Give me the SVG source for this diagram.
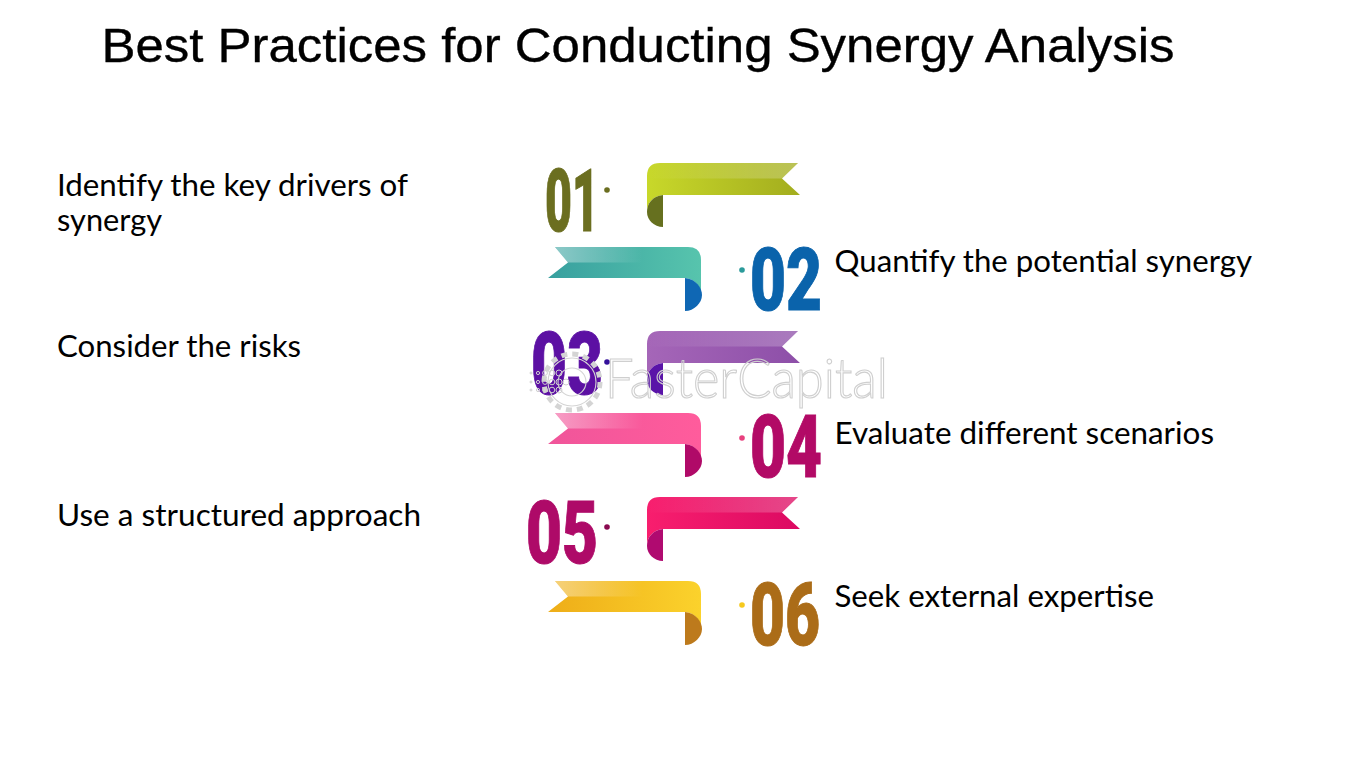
<svg xmlns="http://www.w3.org/2000/svg" width="1350" height="759" viewBox="0 0 1350 759">
<style>
.title{font-family:"Liberation Sans",Arial,sans-serif;font-size:48px;fill:#000;stroke:#000;stroke-width:.35px}
.body{font-family:Lato,"Open Sans",sans-serif;font-size:31px;fill:#000}
.num{font-family:Roboto,"Liberation Sans",sans-serif;font-weight:900;font-size:88px;stroke-width:1px;stroke-linejoin:miter}
.wm{font-family:Lato,"Liberation Sans",sans-serif;font-weight:300;font-size:56px;fill:none;stroke:#cfcfcf;stroke-width:1.2px}
.ring{fill:none;stroke:#d4d4d4}
.dot{fill:none;stroke:#cfcfcf;stroke-width:1}
</style>
<defs>
<path id="lb" d="M0 13Q0 0 13 0L151 0L135 15.5L153 32L16 32C5 33 0 41 0 49Z"/>
<path id="lt" d="M0 13Q0 0 13 0L151 0L135 15.5L0 15.5Z"/>
<path id="lf" d="M16 32C5 33 0 41 0 49C0 57 7 64 16 64Z"/>
<path id="rb" d="M153 13Q153 0 140 0L7 0L20 15.5L0 31L137 31C148 32 153 41 153 48Z"/>
<path id="rt" d="M153 13Q153 0 140 0L7 0L20 15.5L153 15.5Z"/>
<path id="rf" d="M137 31C148 32 154 41 154 48C154 56 146 64 137 64Z"/>
<linearGradient id="g1" x1="0" x2="1" y1="0" y2="0"><stop offset="0" stop-color="#c8d82a"/><stop offset="1" stop-color="#a3ad1e"/></linearGradient>
<linearGradient id="g2" x1="0" x2="1" y1="0" y2="0"><stop offset="0" stop-color="#38a09f"/><stop offset="1" stop-color="#57c4ad"/></linearGradient>
<linearGradient id="g3" x1="0" x2="1" y1="0" y2="0"><stop offset="0" stop-color="#a566b8"/><stop offset="1" stop-color="#8d4fa8"/></linearGradient>
<linearGradient id="g4" x1="0" x2="1" y1="0" y2="0"><stop offset="0" stop-color="#f0559a"/><stop offset="1" stop-color="#ff5c9c"/></linearGradient>
<linearGradient id="g5" x1="0" x2="1" y1="0" y2="0"><stop offset="0" stop-color="#f81e6e"/><stop offset="1" stop-color="#dc0a62"/></linearGradient>
<linearGradient id="g6" x1="0" x2="1" y1="0" y2="0"><stop offset="0" stop-color="#eead18"/><stop offset="1" stop-color="#fbd22c"/></linearGradient>
<linearGradient id="h1" x1="0" x2="1" y1="0" y2="0"><stop offset="0" stop-color="#fff" stop-opacity="0"/><stop offset="1" stop-color="#fff" stop-opacity=".25"/></linearGradient>
<linearGradient id="h2" x1="0" x2="1" y1="0" y2="0"><stop offset="0" stop-color="#fff" stop-opacity=".42"/><stop offset=".6" stop-color="#fff" stop-opacity="0"/></linearGradient>
</defs>
<text class="title" x="101.5" y="62" textLength="1073" lengthAdjust="spacingAndGlyphs">Best Practices for Conducting Synergy Analysis</text>

<g id="item-01">
<text class="body" x="57" y="196" textLength="351" lengthAdjust="spacingAndGlyphs">Identify the key drivers of</text>
<text class="body" x="57" y="231" textLength="105" lengthAdjust="spacingAndGlyphs">synergy</text>
<text class="num" x="545" y="231" textLength="54" lengthAdjust="spacingAndGlyphs" fill="#6b6e20" stroke="#6b6e20">01</text>
<circle cx="607" cy="190" r="2.8" fill="#6b6e20"/>
<g transform="translate(647 163)"><use href="#lb" fill="url(#g1)"/><use href="#lt" fill="url(#h1)"/><use href="#lf" fill="#66701f"/></g>
</g>
<g id="item-02">
<text class="body" x="834.5" y="272" textLength="417.5" lengthAdjust="spacingAndGlyphs">Quantify the potential synergy</text>
<text class="num" x="750" y="310" textLength="72" lengthAdjust="spacingAndGlyphs" fill="#0a63ab" stroke="#0a63ab">02</text>
<circle cx="742" cy="270" r="2.8" fill="#2b9a9a"/>
<g transform="translate(548 247)"><use href="#rb" fill="url(#g2)"/><use href="#rt" fill="url(#h2)"/><use href="#rf" fill="#0f67b4"/></g>
</g>
<g id="item-03">
<text class="body" x="57" y="357" textLength="244" lengthAdjust="spacingAndGlyphs">Consider the risks</text>
<text class="num" x="531" y="394" textLength="72" lengthAdjust="spacingAndGlyphs" fill="#5c10a3" stroke="#5c10a3">03</text>
<circle cx="607" cy="362" r="2.8" fill="#34109a"/>
<g transform="translate(647 331)"><use href="#lb" fill="url(#g3)"/><use href="#lt" fill="url(#h1)"/><use href="#lf" fill="#5a14a8"/></g>
</g>
<g id="item-04">
<text class="body" x="834.5" y="444" textLength="379.5" lengthAdjust="spacingAndGlyphs">Evaluate different scenarios</text>
<text class="num" x="750" y="477" textLength="72" lengthAdjust="spacingAndGlyphs" fill="#b20a66" stroke="#b20a66">04</text>
<circle cx="742" cy="438" r="2.8" fill="#e8407e"/>
<g transform="translate(548 413)"><use href="#rb" fill="url(#g4)"/><use href="#rt" fill="url(#h2)"/><use href="#rf" fill="#b00a68"/></g>
</g>
<g id="item-05">
<text class="body" x="57" y="526" textLength="364" lengthAdjust="spacingAndGlyphs">Use a structured approach</text>
<text class="num" x="526" y="563" textLength="72" lengthAdjust="spacingAndGlyphs" fill="#ae0a68" stroke="#ae0a68">05</text>
<circle cx="607" cy="527" r="2.8" fill="#8a0a50"/>
<g transform="translate(647 497)"><use href="#lb" fill="url(#g5)"/><use href="#lt" fill="url(#h1)"/><use href="#lf" fill="#b00a70"/></g>
</g>
<g id="item-06">
<text class="body" x="834.5" y="607" textLength="319.5" lengthAdjust="spacingAndGlyphs">Seek external expertise</text>
<text class="num" x="750" y="645" textLength="70" lengthAdjust="spacingAndGlyphs" fill="#ab6c18" stroke="#ab6c18">06</text>
<circle cx="742" cy="605" r="2.8" fill="#f6c91e"/>
<g transform="translate(548 581)"><use href="#rb" fill="url(#g6)"/><use href="#rt" fill="url(#h2)"/><use href="#rf" fill="#bd7a1c"/></g>
</g>

<g id="watermark">
<circle class="ring" cx="572" cy="382" r="28" stroke-width="5" stroke-dasharray="6 5"/>
<circle class="ring" cx="572" cy="382" r="24" stroke-width="1.1"/>
<circle class="ring" cx="572" cy="382" r="14" stroke-width="1.1"/>
<g class="dot">
<circle cx="531" cy="373" r="1"/><circle cx="538" cy="373" r="1.6"/><circle cx="545" cy="373" r="2.4"/><circle cx="552" cy="373" r="2.8"/><circle cx="559" cy="373" r="3"/>
<circle cx="531" cy="382" r="1"/><circle cx="538" cy="382" r="1.6"/><circle cx="545" cy="382" r="2.4"/><circle cx="552" cy="382" r="2.8"/><circle cx="559" cy="382" r="3"/><circle cx="566" cy="382" r="3"/>
<circle cx="531" cy="390" r="1"/><circle cx="538" cy="390" r="1.6"/><circle cx="545" cy="390" r="2.4"/><circle cx="552" cy="390" r="2.8"/><circle cx="559" cy="390" r="3"/>
</g>
<text class="wm" x="605" y="398" textLength="283" lengthAdjust="spacingAndGlyphs">FasterCapital</text>
</g>
</svg>
